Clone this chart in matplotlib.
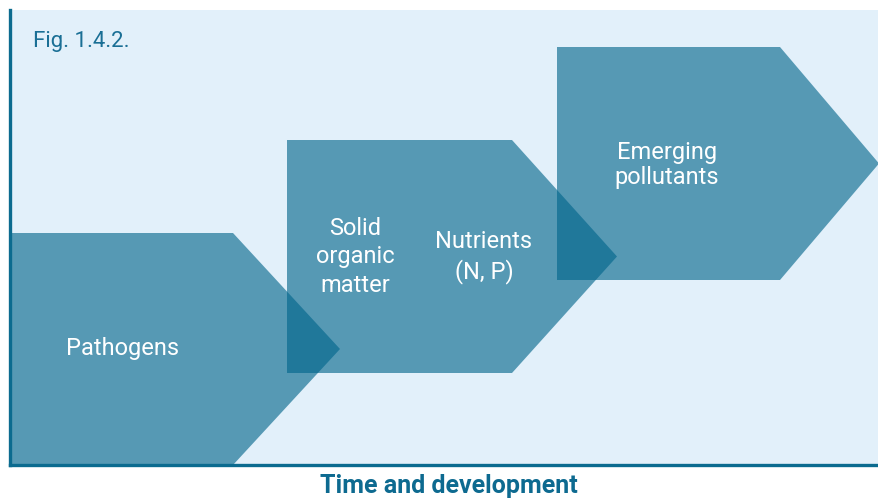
import matplotlib
matplotlib.use("Agg")
import matplotlib.pyplot as plt
from matplotlib.patches import Polygon

FAM = ["Roboto", "DejaVu Sans"]

# Stages (diagram data, in axis units)
stage_labels = ["Pathogens", "Solid\norganic\nmatter", "Nutrients\n(N, P)", "Emerging\npollutants"]
arrow_start = [0, 277, 547]
arrow_shoulder = [223, 502, 770]
arrow_tip = [330, 607, 869]
arrow_bottom = [0, 92, 185]
arrow_top = [232, 325, 418]
label_x = [113, 345, 474, 657]
label_y = [117, 208, 208, 300]
label_spacing = [1.0, 1.3, 1.3, 1.1]

fig = plt.figure(figsize=(8.79, 5.0), dpi=100)
ax = fig.add_axes([10/879, 35/500, 869/879, 455/500])
ax.set_xlim(0, 869)
ax.set_ylim(0, 455)
ax.set_facecolor("#e2f0fa")
for s in ["top", "right"]:
    ax.spines[s].set_visible(False)
for s in ["left", "bottom"]:
    ax.spines[s].set_color("#0b6b8f")
    ax.spines[s].set_linewidth(2.4)
ax.set_xticks([])
ax.set_yticks([])

for x0, xs, xt, yb, yt in zip(arrow_start, arrow_shoulder, arrow_tip, arrow_bottom, arrow_top):
    ym = (yb + yt) / 2
    poly = Polygon([(x0, yb), (x0, yt), (xs, yt), (xt, ym), (xs, yb)],
                   closed=True, facecolor=(0/255, 100/255, 138/255), alpha=0.62,
                   edgecolor="none", clip_on=False)
    ax.add_patch(poly)

for lab, lx, ly, ls in zip(stage_labels, label_x, label_y, label_spacing):
    ax.text(lx, ly, lab, color="white", fontsize=17, ha="center", va="center",
            family=FAM, linespacing=ls)

fig.text(33/879, 1 - 42/500, "Fig. 1.4.2.", color="#1a6f95", fontsize=16,
         ha="left", va="center", family=FAM)
fig.text(449/879, 1 - 486/500, "Time and development", color="#0d6a90",
         fontsize=18, fontweight="bold", ha="center", va="center", family=FAM)

fig.savefig("out.png", dpi=100)
